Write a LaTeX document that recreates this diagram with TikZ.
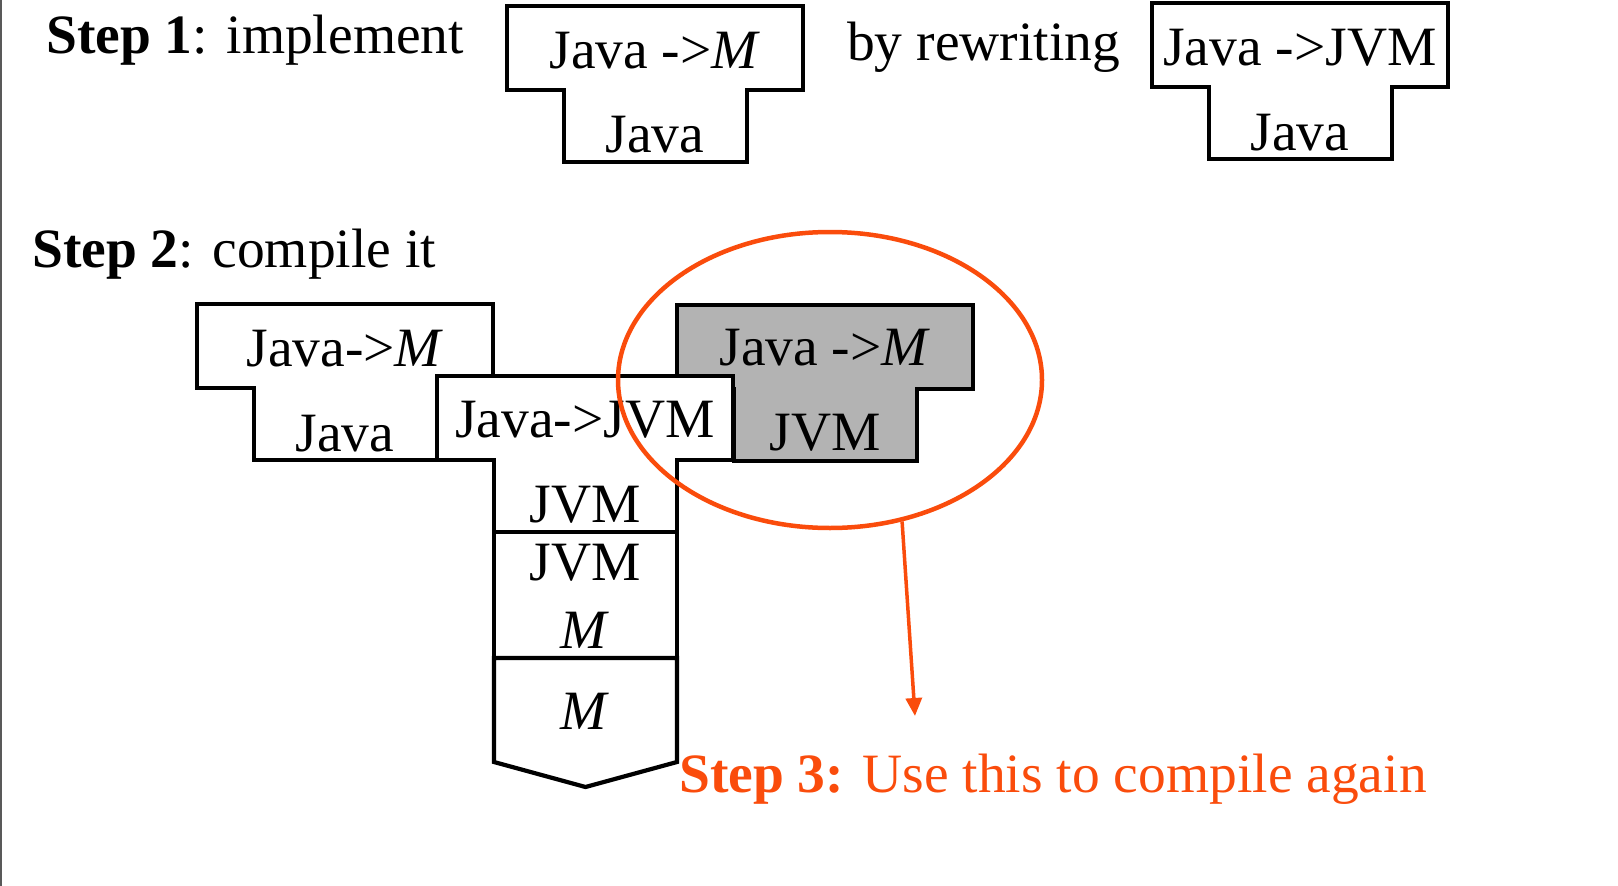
\documentclass[tikz,border=0pt]{standalone}
\usepackage{fontspec}
\setmainfont{Liberation Serif}
\usetikzlibrary{shapes.geometric,arrows.meta}
\definecolor{hot}{RGB}{250,76,12}
\definecolor{boxgray}{RGB}{179,179,179}
\newcommand\tshape[3][white]{%
  \draw[shp, fill=#1] (#2,#3) -- ++(296,0) -- ++(0,84) -- ++(-56,0) -- ++(0,72)
    -- ++(-183,0) -- ++(0,-72) -- ++(-57,0) -- cycle;}
\begin{document}
\begin{tikzpicture}[x=1pt,y=-1pt,
  lbl/.style={font=\fontsize{55.5}{60}\selectfont, inner sep=0pt, anchor=base},
  lblw/.style={lbl, anchor=base west},
  shp/.style={draw=black, line width=4.2pt, line join=miter},
]
\useasboundingbox (0,0) rectangle (1618,886);
\draw[black!65, line width=2pt] (1,0) -- (1,886);

% Step 1 boxes
\tshape{507}{6}
\tshape{1152}{3}
% Step 2 diagram
\tshape{197}{304}
\tshape[boxgray]{677}{305}
\tshape{437}{376}
\draw[shp, fill=white] (494,532) rectangle (677,658);
\draw[shp, fill=white] (494,658) -- (677,658) -- (677,762) -- (585.5,787) -- (494,762) -- cycle;

% texts
\node[lblw] (s1) at (46,53) {\textbf{Step 1}: implement};
\node[lbl] (b1t) at (655,68) {Java ->\textit{M}};
\node[lbl] (b1b) at (655,152) {Java};
\node[lblw] (rw) at (847,60) {by rewriting};
\node[lbl] (b2t) at (1300,65) {Java ->JVM};
\node[lbl] (b2b) at (1300,150) {Java};

\node[lblw] (s2) at (32,267) {\textbf{Step 2}: compile it};
\node[lbl] (ltt) at (345,366) {Java->\textit{M}};
\node[lbl] (ltb) at (345,451) {Java};
\node[lbl] (ctt) at (585,437) {Java->JVM};
\node[lbl] (ctb) at (585,522) {JVM};
\node[lbl] (gtt) at (825,365) {Java ->\textit{M}};
\node[lbl] (gtb) at (825,450) {JVM};
\node[lbl] (it1) at (585,580) {JVM};
\node[lbl] (it2) at (585,648) {\textit{M}};
\node[lbl] (mm) at (585,729) {\textit{M}};

% highlight
\node[draw=hot, line width=4.5pt, ellipse, minimum width=424pt, minimum height=296pt, inner sep=0pt] (ring) at (830,380) {};
\coordinate (tip) at (915,716);
\draw[hot, line width=3.5pt, -{Triangle[length=18pt,width=16pt]}] (ring.-63) -- (tip);
\node[lblw, text=hot] (s3) at (679,792) {\textbf{Step 3:} Use this to compile again};
\end{tikzpicture}
\end{document}
